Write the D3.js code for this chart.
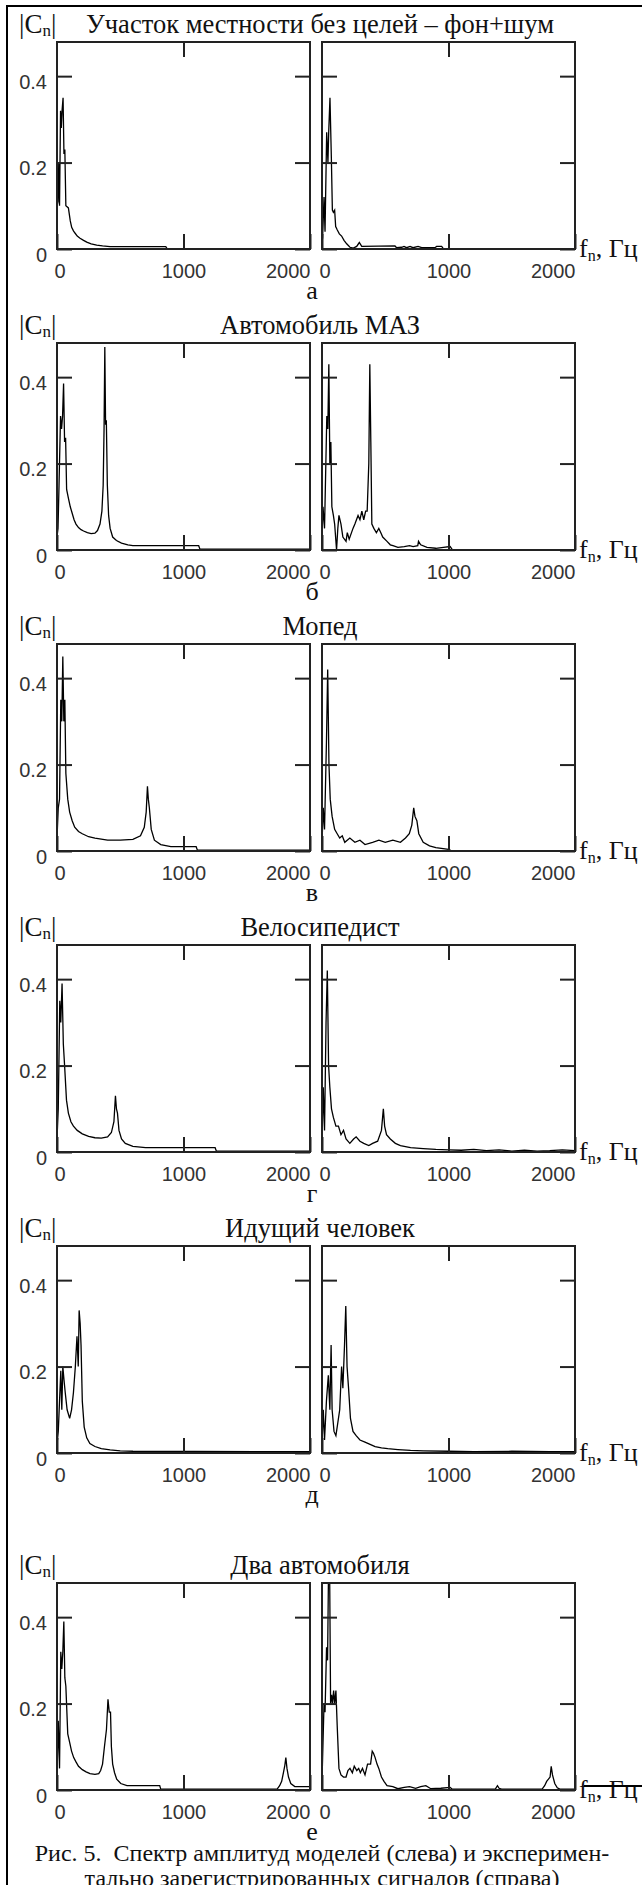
<!DOCTYPE html>
<html>
<head>
<meta charset="utf-8">
<script src="https://cdn.jsdelivr.net/npm/d3@7"></script>
<style>
  body { margin: 0; background: #fff; }
  .serif { font-family: "Liberation Serif", "Times New Roman", serif; fill: #111; white-space: pre; }
  .tick text { font-family: "Liberation Sans", Arial, sans-serif; font-size: 20px; fill: #333; }
  .tick line { stroke: #222; stroke-width: 2; }
</style>
</head>
<body>
<script>
// panel titles and letters
const titles = [
    "Участок местности без целей – фон+шум",
    "Автомобиль МАЗ",
    "Мопед",
    "Велосипедист",
    "Идущий человек",
    "Два автомобиля"
];
const letters = ["а", "б", "в", "г", "д", "е"];
const yTicks = [0, 0.2, 0.4];
const xTicks = [0, 1000, 2000];
const yTop = 0.479;
const xMax = 2000;

const bgModel = [[0,0.1],[8,0.11],[14,0.2],[20,0.1],[28,0.32],[34,0.28],[40,0.32],[48,0.35],[55,0.22],[62,0.23],[70,0.1],[90,0.095],[105,0.065],[116,0.05],[130,0.042],[142,0.037],[160,0.03],[182,0.025],[210,0.02],[235,0.016],[270,0.012],[314,0.009],[360,0.007],[419,0.0055],[860,0.0055],[870,0.001],[2000,0.001]];
const bgExp = [[0,0.03],[5,0.028],[16,0.12],[24,0.04],[37,0.27],[47,0.2],[53,0.27],[63,0.35],[74,0.21],[82,0.09],[90,0.085],[100,0.09],[108,0.052],[121,0.044],[137,0.035],[155,0.03],[174,0.02],[195,0.012],[221,0.004],[248,0.002],[274,0.006],[295,0.015],[314,0.006],[577,0.007],[590,0.003],[630,0.004],[648,0.006],[669,0.003],[696,0.006],[720,0.003],[759,0.006],[788,0.003],[893,0.003],[906,0.006],[946,0.006],[959,0.001],[2000,0.001]];

const mazModel = [[0,0.03],[8,0.05],[16,0.15],[28,0.31],[36,0.28],[44,0.31],[52,0.385],[60,0.25],[68,0.26],[76,0.14],[90,0.12],[105,0.1],[120,0.085],[135,0.07],[150,0.06],[170,0.052],[190,0.047],[210,0.044],[240,0.04],[270,0.038],[300,0.039],[320,0.045],[340,0.06],[355,0.09],[365,0.15],[372,0.28],[378,0.47],[384,0.29],[390,0.3],[398,0.15],[408,0.08],[420,0.05],[440,0.03],[470,0.022],[510,0.016],[560,0.012],[600,0.01],[1120,0.01],[1130,0.002],[2000,0.002]];
const mazExp = [[0,0.03],[8,0.1],[20,0.05],[38,0.31],[46,0.28],[54,0.43],[62,0.2],[70,0.25],[78,0.1],[90,0.08],[100,0.06],[115,0.0],[125,0.05],[134,0.08],[150,0.06],[165,0.03],[190,0.02],[200,0.04],[215,0.025],[245,0.05],[260,0.06],[285,0.08],[300,0.07],[315,0.09],[330,0.07],[345,0.09],[357,0.09],[370,0.2],[378,0.43],[386,0.25],[394,0.06],[410,0.05],[430,0.04],[449,0.05],[465,0.04],[480,0.03],[514,0.02],[540,0.012],[561,0.01],[600,0.006],[650,0.008],[692,0.01],[720,0.008],[757,0.01],[763,0.02],[780,0.012],[830,0.006],[900,0.004],[960,0.006],[1013,0.008],[1030,0.001],[2000,0.001]];

const mopedModel = [[0,0.03],[10,0.1],[20,0.12],[30,0.35],[38,0.3],[46,0.45],[54,0.3],[62,0.35],[70,0.18],[85,0.12],[100,0.09],[120,0.07],[140,0.055],[170,0.045],[200,0.04],[250,0.033],[300,0.03],[400,0.025],[500,0.025],[600,0.027],[660,0.035],[690,0.055],[705,0.09],[715,0.15],[722,0.12],[730,0.1],[745,0.05],[770,0.025],[820,0.015],[900,0.01],[1100,0.01],[1110,0.002],[2000,0.002]];
const mopedExp = [[0,0.02],[10,0.1],[20,0.05],[35,0.25],[45,0.42],[55,0.2],[65,0.12],[80,0.08],[100,0.05],[120,0.04],[140,0.03],[160,0.035],[180,0.02],[220,0.03],[260,0.02],[300,0.025],[340,0.015],[400,0.02],[450,0.025],[500,0.02],[560,0.025],[620,0.02],[660,0.03],[690,0.04],[710,0.06],[725,0.1],[735,0.08],[750,0.07],[765,0.04],[800,0.02],[850,0.012],[900,0.008],[1000,0.004],[1020,0.001],[2000,0.001]];

const bikeModel = [[0,0.03],[10,0.1],[22,0.35],[30,0.3],[40,0.39],[50,0.25],[60,0.2],[75,0.12],[90,0.09],[110,0.07],[130,0.06],[160,0.05],[200,0.042],[250,0.036],[300,0.033],[350,0.032],[400,0.035],[430,0.045],[450,0.07],[462,0.13],[470,0.1],[478,0.09],[490,0.05],[510,0.03],[540,0.02],[600,0.013],[700,0.01],[1250,0.01],[1260,0.002],[2000,0.002]];
const bikeExp = [[0,0.02],[10,0.15],[20,0.05],[32,0.3],[42,0.42],[52,0.2],[62,0.15],[75,0.1],[90,0.08],[110,0.06],[130,0.06],[150,0.04],[170,0.05],[190,0.03],[220,0.02],[250,0.03],[270,0.035],[300,0.025],[330,0.02],[370,0.015],[400,0.02],[440,0.025],[470,0.05],[485,0.1],[495,0.06],[510,0.04],[540,0.03],[580,0.02],[620,0.015],[700,0.01],[800,0.008],[900,0.006],[1000,0.005],[1100,0.004],[1200,0.006],[1300,0.003],[1400,0.005],[1500,0.002],[1600,0.004],[1700,0.002],[1800,0.003],[1900,0.005],[2000,0.003]];

const walkModel = [[0,0.02],[10,0.05],[20,0.12],[30,0.19],[38,0.1],[46,0.2],[55,0.17],[65,0.14],[80,0.1],[100,0.08],[115,0.1],[130,0.14],[145,0.2],[158,0.27],[168,0.2],[175,0.33],[183,0.3],[190,0.25],[200,0.12],[215,0.06],[235,0.035],[260,0.022],[300,0.015],[350,0.01],[420,0.007],[500,0.005],[600,0.004],[2000,0.003]];
const walkExp = [[0,0.02],[10,0.1],[20,0.03],[35,0.12],[50,0.18],[62,0.1],[72,0.25],[80,0.1],[95,0.05],[110,0.04],[125,0.07],[140,0.1],[155,0.2],[165,0.15],[178,0.25],[188,0.34],[198,0.2],[210,0.15],[225,0.08],[245,0.05],[270,0.04],[300,0.03],[340,0.025],[380,0.02],[420,0.015],[470,0.012],[520,0.01],[600,0.008],[700,0.006],[800,0.005],[1000,0.004],[1200,0.003],[1500,0.004],[1800,0.003],[2000,0.003]];

const twoModel = [[0,0.03],[10,0.16],[20,0.05],[30,0.32],[38,0.28],[46,0.32],[54,0.39],[62,0.26],[70,0.24],[85,0.13],[100,0.11],[115,0.09],[132,0.075],[150,0.065],[170,0.055],[200,0.047],[230,0.042],[261,0.038],[300,0.036],[330,0.038],[345,0.045],[360,0.06],[375,0.1],[391,0.14],[403,0.21],[413,0.18],[423,0.18],[430,0.1],[440,0.06],[455,0.04],[472,0.025],[504,0.015],[553,0.01],[812,0.01],[820,0.002],[1740,0.002],[1760,0.01],[1776,0.02],[1790,0.04],[1800,0.055],[1809,0.075],[1818,0.05],[1830,0.03],[1848,0.015],[1880,0.008],[2000,0.008]];
const twoExp = [[0,0.02],[8,0.11],[16,0.2],[24,0.18],[36,0.33],[44,0.3],[52,0.52],[60,0.52],[68,0.2],[76,0.22],[83,0.2],[92,0.23],[100,0.2],[110,0.23],[120,0.15],[134,0.05],[150,0.035],[170,0.03],[190,0.03],[205,0.045],[221,0.05],[240,0.04],[255,0.055],[275,0.045],[290,0.05],[303,0.04],[320,0.05],[340,0.035],[360,0.06],[384,0.06],[397,0.09],[407,0.085],[420,0.075],[435,0.06],[449,0.05],[470,0.03],[490,0.02],[514,0.01],[560,0.008],[600,0.003],[650,0.006],[692,0.008],[740,0.004],[780,0.008],[821,0.01],[860,0.003],[940,0.004],[1013,0.006],[1030,0.002],[1370,0.002],[1387,0.01],[1400,0.004],[1420,0.002],[1740,0.002],[1760,0.01],[1776,0.02],[1790,0.025],[1803,0.03],[1812,0.055],[1822,0.035],[1840,0.015],[1860,0.005],[1880,0.002],[2000,0.002]];

const models = [bgModel, mazModel, mopedModel, bikeModel, walkModel, twoModel];
const exps = [bgExp, mazExp, mopedExp, bikeExp, walkExp, twoExp];

const caption = [
    "Рис. 5.  Спектр амплитуд моделей (слева) и эксперимен-",
    "тально зарегистрированных сигналов (справа)"
];

// layout
const W = 253, H = 207;
const plotX = [57, 322];
const panelTop = [42, 343, 644, 945, 1246, 1583];

const svg = d3.select("body").append("svg")
    .attr("width", 642)
    .attr("height", 1885);

svg.append("line").attr("x1", 7).attr("y1", 6).attr("x2", 642).attr("y2", 6)
    .attr("stroke", "#000").attr("stroke-width", 2);
svg.append("line").attr("x1", 7).attr("y1", 5).attr("x2", 7).attr("y2", 1885)
    .attr("stroke", "#000").attr("stroke-width", 2);

const x = d3.scaleLinear().domain([0, xMax]).range([0, W]);
const y = d3.scaleLinear().domain([0, yTop]).range([H, 0]);
const line = d3.line().x(d => x(d[0])).y(d => y(d[1]));

svg.append("clipPath").attr("id", "box")
    .append("rect").attr("width", W).attr("height", H);

titles.forEach((title, i) => {
    const top = panelTop[i];

    const cn = svg.append("text").attr("class", "serif")
        .attr("x", 19).attr("y", top - 9)
        .attr("font-size", 27);
    cn.append("tspan").text("|C");
    cn.append("tspan").attr("font-size", 17).attr("dy", 3).text("n");
    cn.append("tspan").attr("dy", -3).text("|");

    svg.append("text").attr("class", "serif")
        .attr("x", 320).attr("y", top - 9)
        .attr("font-size", 26.5)
        .attr("text-anchor", "middle")
        .text(title);

    [models[i], exps[i]].forEach((series, s) => {
        const g = svg.append("g")
            .attr("transform", `translate(${plotX[s]},${top})`);

        g.append("path")
            .datum(series)
            .attr("clip-path", "url(#box)")
            .attr("fill", "none")
            .attr("stroke", "#000")
            .attr("stroke-width", 1.3)
            .attr("d", line);

        const left = g.append("g")
            .call(d3.axisLeft(y).tickValues(yTicks).tickSize(-15).tickPadding(10)
                .tickFormat(d => s ? "" : (d === 0 ? "0" : d.toFixed(1))));
        left.selectAll("text").attr("dy", "0.62em");

        g.append("g").attr("transform", `translate(${W},0)`)
            .call(d3.axisRight(y).tickValues(yTicks).tickSize(-15).tickFormat(""));

        g.append("g")
            .call(d3.axisTop(x).tickValues([1000]).tickSize(-15).tickFormat(""));

        const bottom = g.append("g").attr("transform", `translate(0,${H})`)
            .call(d3.axisBottom(x).tickValues(xTicks).tickSize(-15).tickPadding(15)
                .tickFormat(d3.format("d")));
        bottom.selectAll("text")
            .attr("text-anchor", d => d === 0 ? "start" : d === xMax ? "end" : "middle")
            .attr("dx", d => d === 0 ? -3 : 0);

        g.selectAll(".domain").remove();

        g.append("rect")
            .attr("width", W).attr("height", H)
            .attr("fill", "none")
            .attr("stroke", "#222")
            .attr("stroke-width", 2);
    });

    const fn = svg.append("text").attr("class", "serif")
        .attr("x", 579).attr("y", top + H + 8)
        .attr("font-size", 26);
    fn.append("tspan").text("f");
    fn.append("tspan").attr("font-size", 16).attr("dy", 4).text("n");
    fn.append("tspan").attr("dy", -4).text(", Гц");

    svg.append("text").attr("class", "serif")
        .attr("x", 312).attr("y", top + H + 50)
        .attr("font-size", 26)
        .attr("text-anchor", "middle")
        .text(letters[i]);
});

// stray stroke through the last axis label
svg.append("line")
    .attr("x1", 584).attr("x2", 642)
    .attr("y1", panelTop[5] + H - 4).attr("y2", panelTop[5] + H - 4)
    .attr("stroke", "#000").attr("stroke-width", 2);

caption.forEach((c, i) => {
    svg.append("text").attr("class", "serif")
        .attr("x", 322).attr("y", 1861 + i * 25)
        .attr("font-size", 24)
        .attr("text-anchor", "middle")
        .text(c);
});
</script>
</body>
</html>
